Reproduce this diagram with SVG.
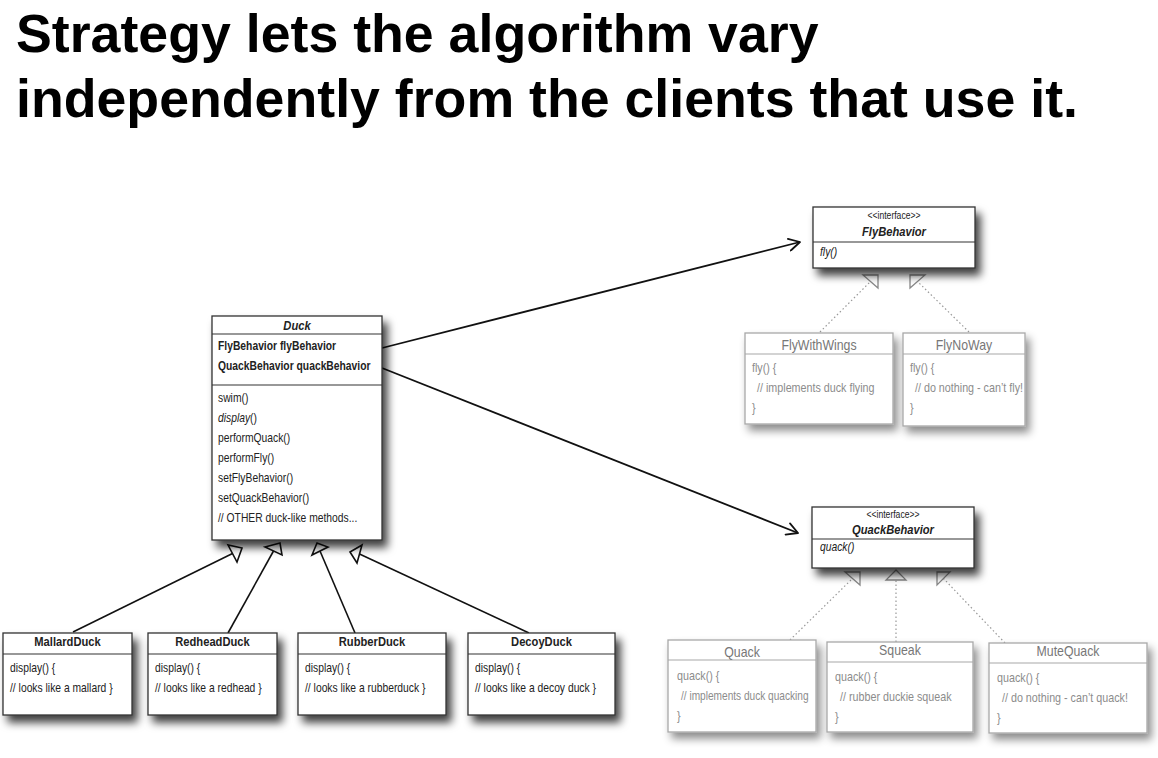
<svg xmlns="http://www.w3.org/2000/svg" width="1158" height="758" viewBox="0 0 1158 758">
<style>
.title{font-family:"Liberation Sans",Arial,sans-serif;font-weight:bold;font-size:53.7px;fill:#000}
.t{font-family:"Liberation Sans",Arial,sans-serif;font-size:12px;fill:#222}
.h{font-size:13px;font-weight:bold}
.gh{font-size:14px}
.gb{font-size:12.5px}
.sm{font-size:10px}
.b{font-weight:bold}
.i{font-style:italic}
.c{text-anchor:middle}
.box{fill:#fff;stroke:#333;stroke-width:1.3}
.div{stroke:#333;stroke-width:1.2}
.gbox{fill:#fff;stroke:#a8a8a8;stroke-width:1.3}
.gdiv{stroke:#a8a8a8;stroke-width:1.2}
.g{fill:#8c8c8c}
.gt{fill:#777}
.inh{stroke:#111;stroke-width:1.6;fill:none}
.tri{fill:#fff;stroke:#111;stroke-width:1.6;stroke-linejoin:miter}
.real{stroke:#999;stroke-width:1.2;stroke-dasharray:1.5 2.5;fill:none}
.gtri{fill:#fff;stroke:#888;stroke-width:1.3}
.assoc{stroke:#111;stroke-width:1.8;fill:none;marker-end:url(#open)}
</style>
<defs>
<filter id="sh" x="-20%" y="-20%" width="150%" height="150%">
<feDropShadow dx="5" dy="7" stdDeviation="4.5" flood-color="#000" flood-opacity="0.75"/>
</filter>
<filter id="shl" x="-20%" y="-20%" width="150%" height="150%">
<feDropShadow dx="4" dy="6" stdDeviation="4.5" flood-color="#000" flood-opacity="0.45"/>
</filter>
<marker id="open" viewBox="0 0 14 14" refX="12" refY="7" markerWidth="14" markerHeight="14" markerUnits="userSpaceOnUse" orient="auto">
<path d="M1,1 L12,7 L1,13" fill="none" stroke="#111" stroke-width="1.8" stroke-linecap="round" stroke-linejoin="round"/>
</marker>
</defs>
<rect width="1158" height="758" fill="#fff"/>

<text class="title" x="16" y="52">Strategy lets the algorithm vary</text>
<text class="title" x="16" y="117">independently from the clients that use it.</text>

<g id="connectors">
<line class="assoc" x1="382" y1="348" x2="800" y2="242"/>
<line class="assoc" x1="382" y1="368" x2="798" y2="533"/>
<line class="inh" x1="73" y1="632" x2="232.5" y2="553.5"/>
<polygon class="tri" points="242,548 228,545 237,562"/>
<line class="inh" x1="228" y1="633" x2="273.5" y2="551"/>
<polygon class="tri" points="280,543 265,547 282,555"/>
<line class="inh" x1="355" y1="633" x2="320" y2="551"/>
<polygon class="tri" points="317,543 312,555 328,547"/>
<line class="inh" x1="529" y1="633" x2="359.5" y2="554"/>
<polygon class="tri" points="350,552 362,545 357,563"/>
<line class="real" x1="820" y1="332" x2="870.5" y2="281.5"/>
<polygon class="gtri" points="878,275 863,275 878,288"/>
<line class="real" x1="969" y1="332" x2="917.5" y2="281.5"/>
<polygon class="gtri" points="910,275 925,275 910,288"/>
<line class="real" x1="790" y1="640" x2="852.5" y2="578.5"/>
<polygon class="gtri" points="860,572 845,572 860,585"/>
<line class="real" x1="896" y1="642" x2="896" y2="580"/>
<polygon class="gtri" points="896,570 886,580 906,580"/>
<line class="real" x1="1005" y1="643" x2="943.5" y2="578.5"/>
<polygon class="gtri" points="937,572 950,572 937,585"/>
</g>

<g id="duck">
<rect class="box" x="212" y="316" width="170" height="224" filter="url(#sh)"/>
<line class="div" x1="212" y1="334" x2="382" y2="334"/>
<line class="div" x1="212" y1="385" x2="382" y2="385"/>
<text class="t h i c" transform="translate(297 330) scale(.86 1)">Duck</text>
<text class="t b" transform="translate(218 350) scale(.86 1)">FlyBehavior flyBehavior</text>
<text class="t b" transform="translate(218 370) scale(.86 1)">QuackBehavior quackBehavior</text>
<text class="t" transform="translate(218 402) scale(.86 1)">swim()</text>
<text class="t" transform="translate(218 422) scale(.86 1)"><tspan class="i">display</tspan>()</text>
<text class="t" transform="translate(218 442) scale(.86 1)">performQuack()</text>
<text class="t" transform="translate(218 462) scale(.86 1)">performFly()</text>
<text class="t" transform="translate(218 482) scale(.86 1)">setFlyBehavior()</text>
<text class="t" transform="translate(218 502) scale(.86 1)">setQuackBehavior()</text>
<text class="t" transform="translate(218 522) scale(.86 1)">// OTHER duck-like methods...</text>
</g>

<g id="flybehavior">
<rect class="box" x="813" y="207" width="162" height="61" filter="url(#sh)"/>
<line class="div" x1="813" y1="242" x2="975" y2="242"/>
<text class="t sm c" transform="translate(894 219) scale(.86 1)">&lt;&lt;interface&gt;&gt;</text>
<text class="t h i c" transform="translate(894 236) scale(.86 1)">FlyBehavior</text>
<text class="t i" transform="translate(820 256) scale(.86 1)">fly()</text>
</g>

<g id="quackbehavior">
<rect class="box" x="812" y="507" width="162" height="61" filter="url(#sh)"/>
<line class="div" x1="812" y1="539" x2="974" y2="539"/>
<text class="t sm c" transform="translate(893 518) scale(.86 1)">&lt;&lt;interface&gt;&gt;</text>
<text class="t h i c" transform="translate(893 534) scale(.86 1)">QuackBehavior</text>
<text class="t i" transform="translate(820 551) scale(.86 1)">quack()</text>
</g>

<g id="flywithwings">
<rect class="gbox" x="745" y="333" width="148" height="91" filter="url(#shl)"/>
<line class="gdiv" x1="745" y1="354" x2="893" y2="354"/>
<text class="t gh gt c" transform="translate(819 350) scale(.88 1)">FlyWithWings</text>
<text class="t gb g" transform="translate(752 372) scale(.86 1)">fly() {</text>
<text class="t gb g" transform="translate(757 392) scale(.86 1)">// implements duck flying</text>
<text class="t gb g" transform="translate(752 412) scale(.86 1)">}</text>
</g>

<g id="flynoway">
<rect class="gbox" x="903" y="333" width="122" height="93" filter="url(#shl)"/>
<line class="gdiv" x1="903" y1="354" x2="1025" y2="354"/>
<text class="t gh gt c" transform="translate(964 350) scale(.88 1)">FlyNoWay</text>
<text class="t gb g" transform="translate(910 372) scale(.86 1)">fly() {</text>
<text class="t gb g" transform="translate(915 392) scale(.86 1)">// do nothing - can’t fly!</text>
<text class="t gb g" transform="translate(910 412) scale(.86 1)">}</text>
</g>

<g id="quack">
<rect class="gbox" x="668" y="640" width="148" height="92" filter="url(#shl)"/>
<line class="gdiv" x1="668" y1="660" x2="816" y2="660"/>
<text class="t gh gt c" transform="translate(742 657) scale(.88 1)">Quack</text>
<text class="t gb g" transform="translate(677 680) scale(.86 1)">quack() {</text>
<text class="t gb g" transform="translate(681 700) scale(.81 1)">// implements duck quacking</text>
<text class="t gb g" transform="translate(677 720) scale(.86 1)">}</text>
</g>

<g id="squeak">
<rect class="gbox" x="827" y="642" width="146" height="90" filter="url(#shl)"/>
<line class="gdiv" x1="827" y1="662" x2="973" y2="662"/>
<text class="t gh gt c" transform="translate(900 655) scale(.88 1)">Squeak</text>
<text class="t gb g" transform="translate(835 681) scale(.86 1)">quack() {</text>
<text class="t gb g" transform="translate(840 701) scale(.86 1)">// rubber duckie squeak</text>
<text class="t gb g" transform="translate(835 721) scale(.86 1)">}</text>
</g>

<g id="mutequack">
<rect class="gbox" x="989" y="643" width="158" height="90" filter="url(#shl)"/>
<line class="gdiv" x1="989" y1="663" x2="1147" y2="663"/>
<text class="t gh gt c" transform="translate(1068 656) scale(.88 1)">MuteQuack</text>
<text class="t gb g" transform="translate(997 682) scale(.86 1)">quack() {</text>
<text class="t gb g" transform="translate(1002 702) scale(.86 1)">// do nothing - can’t quack!</text>
<text class="t gb g" transform="translate(997 722) scale(.86 1)">}</text>
</g>

<g id="mallardduck">
<rect class="box" x="3" y="633" width="129" height="82" filter="url(#sh)"/>
<line class="div" x1="3" y1="654" x2="132" y2="654"/>
<text class="t h c" transform="translate(67.5 646) scale(.86 1)">MallardDuck</text>
<text class="t" transform="translate(10 672) scale(.86 1)">display() {</text>
<text class="t" transform="translate(10 692) scale(.86 1)">// looks like a mallard }</text>
</g>

<g id="redheadduck">
<rect class="box" x="148" y="633" width="129" height="82" filter="url(#sh)"/>
<line class="div" x1="148" y1="654" x2="277" y2="654"/>
<text class="t h c" transform="translate(212.5 646) scale(.86 1)">RedheadDuck</text>
<text class="t" transform="translate(155 672) scale(.86 1)">display() {</text>
<text class="t" transform="translate(155 692) scale(.86 1)">// looks like a redhead }</text>
</g>

<g id="rubberduck">
<rect class="box" x="298" y="633" width="148" height="82" filter="url(#sh)"/>
<line class="div" x1="298" y1="654" x2="446" y2="654"/>
<text class="t h c" transform="translate(372 646) scale(.86 1)">RubberDuck</text>
<text class="t" transform="translate(305 672) scale(.86 1)">display() {</text>
<text class="t" transform="translate(305 692) scale(.86 1)">// looks like a rubberduck }</text>
</g>

<g id="decoyduck">
<rect class="box" x="468" y="633" width="147" height="82" filter="url(#sh)"/>
<line class="div" x1="468" y1="654" x2="615" y2="654"/>
<text class="t h c" transform="translate(541.5 646) scale(.86 1)">DecoyDuck</text>
<text class="t" transform="translate(475 672) scale(.86 1)">display() {</text>
<text class="t" transform="translate(475 692) scale(.86 1)">// looks like a decoy duck }</text>
</g>
</svg>
